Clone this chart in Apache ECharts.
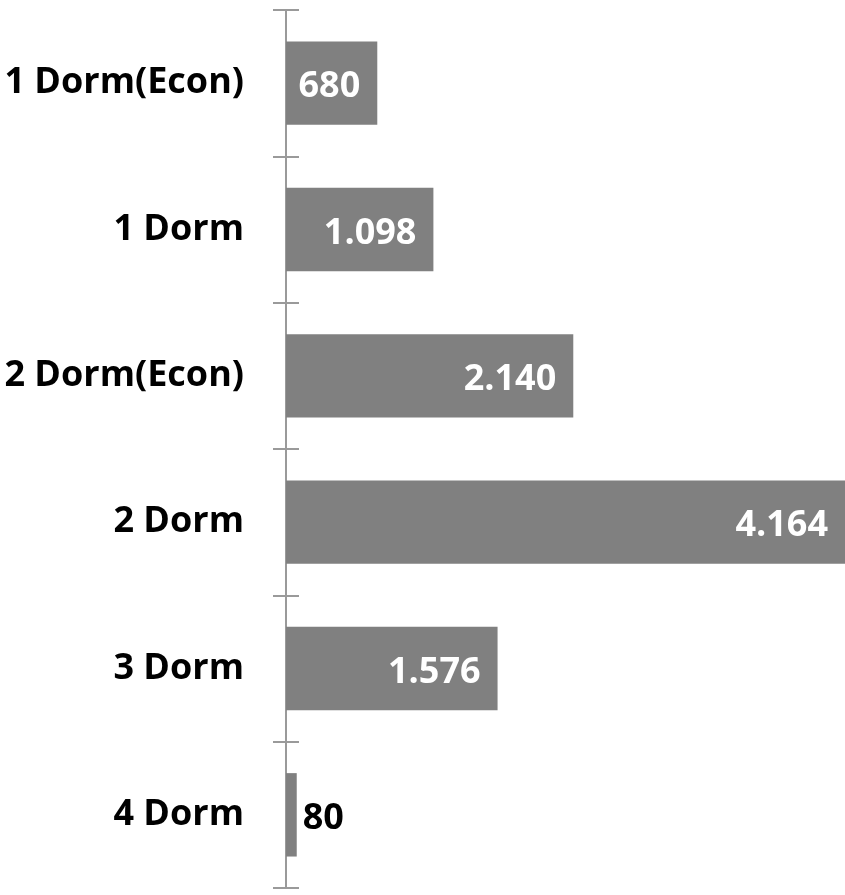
<!DOCTYPE html>
<html>
<head>
<meta charset="utf-8">
<script src="https://cdn.jsdelivr.net/npm/echarts@6/dist/echarts.min.js"></script>
<style>
  html, body { margin: 0; padding: 0; background: #fff; }
  #chart { width: 845px; height: 895px; }
</style>
</head>
<body>
<div id="chart"></div>
<script>
// categories top to bottom
var categories = ['1 Dorm(Econ)', '1 Dorm', '2 Dorm(Econ)', '2 Dorm', '3 Dorm', '4 Dorm']
var values = [680, 1098, 2140, 4164, 1576, 80]
var xMax = 4164

// thousands with a dot, as in the original
function fmt(v) {
  return String(v).replace(/\B(?=(\d{3})+(?!\d))/g, '.')
}

var chart = echarts.init(document.getElementById('chart'))

var fontFamily = '"Open Sans", "Liberation Sans", sans-serif'
var axisGrey = '#9a9a9a'

chart.setOption({
  animation: false,
  grid: {
    top: 10,
    bottom: 7,
    left: 286,
    right: 0
  },
  xAxis: {
    type: 'value',
    min: 0,
    max: xMax,
    show: false
  },
  yAxis: [{
    type: 'category',
    data: categories,
    inverse: true,
    axisLine: { show: true, lineStyle: { color: axisGrey, width: 2 } },
    axisTick: { show: true, length: 13, lineStyle: { color: axisGrey, width: 2 } },
    axisLabel: {
      margin: 42,
      color: '#000',
      fontSize: 36,
      fontWeight: 'bold',
      fontFamily: fontFamily,
      padding: [6, 0, 0, 0]
    }
  }, {
    // second copy only for the inner half of the ticks
    type: 'category',
    data: categories,
    inverse: true,
    position: 'left',
    axisLine: { show: false },
    axisTick: { show: true, inside: true, length: 13, lineStyle: { color: axisGrey, width: 2 } },
    axisLabel: { show: false }
  }],
  series: [{
    type: 'bar',
    yAxisIndex: 0,
    barWidth: '57%',
    itemStyle: { color: '#808080' },
    label: {
      show: true,
      position: 'insideRight',
      distance: 17,
      offset: [0, 4],
      color: '#fff',
      fontSize: 36,
      fontWeight: 'bold',
      fontFamily: fontFamily,
      formatter: function (p) { return fmt(p.value) }
    },
    data: values.map(function (v, i) {
      if (v < 300) {
        return { value: v, label: { position: 'right', color: '#000', distance: 6 } }
      }
      return v
    })
  }]
})
</script>
</body>
</html>
